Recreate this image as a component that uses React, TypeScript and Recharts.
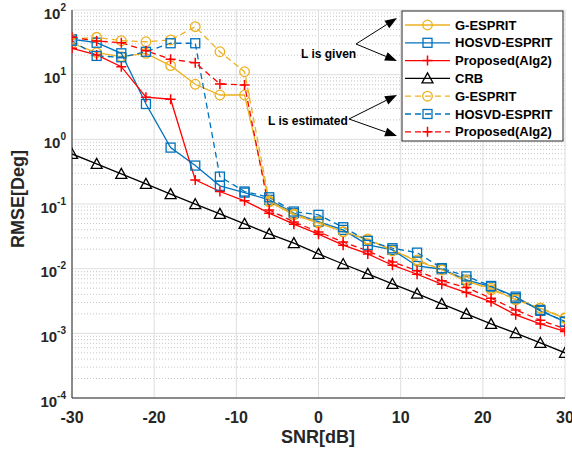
import React from "react";
import { CartesianGrid, Line, LineChart, XAxis, YAxis } from "recharts";

// SNR points (dB)
const snr = [-30, -27, -24, -21, -18, -15, -12, -9, -6, -3, 0, 3, 6, 9, 12, 15, 18, 21, 24, 27, 30];

// L is given (solid)
const gEspritGiven = [30.6, 21.9, 19.0, 21.4, 13.8, 7.11, 4.85, 4.85, 0.108, 0.068, 0.0505, 0.0374, 0.0279, 0.0195, 0.0129, 0.0098, 0.0063, 0.005, 0.0033, 0.00243, 0.0017];
const hosvdGiven = [35.3, 31.2, 21.4, 3.52, 0.745, 0.393, 0.191, 0.15, 0.116, 0.0721, 0.0535, 0.0398, 0.0233, 0.0195, 0.011, 0.0098, 0.0067, 0.00528, 0.0037, 0.00223, 0.00152];
const proposedGiven = [25.6, 20.2, 13.3, 4.48, 4.17, 0.236, 0.156, 0.112, 0.0721, 0.0488, 0.0341, 0.0231, 0.0169, 0.0113, 0.0082, 0.00575, 0.00427, 0.00307, 0.00193, 0.0014, 0.00107];
const crb = [0.594, 0.417, 0.292, 0.205, 0.142, 0.0993, 0.0703, 0.0492, 0.0345, 0.0248, 0.0169, 0.0118, 0.0083, 0.0058, 0.0041, 0.00286, 0.002, 0.0014, 0.00101, 0.00071, 0.0005];

// L is estimated (dashed)
const gEspritEst = [35.3, 37.8, 33.5, 32.3, 34.4, 55.2, 22.6, 11.1, 0.112, 0.0703, 0.0528, 0.037, 0.0289, 0.0188, 0.0137, 0.0096, 0.0067, 0.0047, 0.0034, 0.00248, 0.00174];
const hosvdEst = [33.5, 19.5, 18.6, 22.6, 30.6, 30.6, 0.265, 0.156, 0.127, 0.0764, 0.068, 0.0437, 0.0269, 0.0207, 0.0177, 0.0102, 0.0076, 0.0054, 0.0035, 0.0023, 0.0015];
const proposedEst = [37.8, 33.2, 31.2, 23.5, 17.3, 15.3, 7.18, 6.93, 0.081, 0.0528, 0.037, 0.0259, 0.0188, 0.0127, 0.0093, 0.0065, 0.0051, 0.0035, 0.0023, 0.0016, 0.00117];

const xTicks = [-30, -20, -10, 0, 10, 20, 30];
const yTicks = [1e-4, 1e-3, 1e-2, 1e-1, 1, 10, 100];
const yMinor = [1e-4, 1e-3, 1e-2, 1e-1, 1, 10].flatMap((d) => [2, 3, 4, 5, 6, 7, 8, 9].map((m) => +(d * m).toPrecision(3)));

const FONT = '"Liberation Sans", Arial, Helvetica, sans-serif';
const AXIS = "#262626";
const ORANGE = "#EDB120";
const BLUE = "#0072BD";
const RED = "#FF0000";
const BLACK = "#000000";

type Shape = "circle" | "square" | "plus" | "triangle";

const series: { key: string; name: string; color: string; shape: Shape; dashed: boolean; values: number[] }[] = [
  { key: "gGiven", name: "G-ESPRIT", color: ORANGE, shape: "circle", dashed: false, values: gEspritGiven },
  { key: "hGiven", name: "HOSVD-ESPRIT", color: BLUE, shape: "square", dashed: false, values: hosvdGiven },
  { key: "pGiven", name: "Proposed(Alg2)", color: RED, shape: "plus", dashed: false, values: proposedGiven },
  { key: "crb", name: "CRB", color: BLACK, shape: "triangle", dashed: false, values: crb },
  { key: "gEst", name: "G-ESPRIT", color: ORANGE, shape: "circle", dashed: true, values: gEspritEst },
  { key: "hEst", name: "HOSVD-ESPRIT", color: BLUE, shape: "square", dashed: true, values: hosvdEst },
  { key: "pEst", name: "Proposed(Alg2)", color: RED, shape: "plus", dashed: true, values: proposedEst },
];

const rows = snr.map((s, i) => {
  const row: Record<string, number> = { snr: s };
  series.forEach((sr) => (row[sr.key] = sr.values[i]));
  return row;
});

function Marker({ shape, x, y, color }: { shape: Shape; x: number; y: number; color: string }) {
  if (shape === "circle") return <circle cx={x} cy={y} r={4.8} fill="none" stroke={color} strokeWidth={1.3} />;
  if (shape === "square") return <rect x={x - 4.5} y={y - 4.5} width={9} height={9} fill="none" stroke={color} strokeWidth={1.3} />;
  if (shape === "plus")
    return <path d={`M${x - 5},${y}H${x + 5}M${x},${y - 5}V${y + 5}`} stroke={color} strokeWidth={1.5} fill="none" />;
  return <path d={`M${x},${y - 5.5}L${x + 5.5},${y + 4.5}L${x - 5.5},${y + 4.5}Z`} fill="none" stroke={color} strokeWidth={1.3} />;
}

const dotFor = (shape: Shape, color: string) => (props: any) =>
  (
    <g key={`d-${props.index}`}>
      <Marker shape={shape} x={props.cx} y={props.cy} color={color} />
    </g>
  );

function YTick(props: any) {
  const { x, y, payload } = props;
  const exp = Math.round(Math.log10(payload.value));
  return (
    <text x={x} y={y + 8.6} textAnchor="end" fill={AXIS} fontFamily={FONT} fontWeight={700} fontSize={15}>
      10
      <tspan dy={-8} fontSize={10}>
        {`${exp}`}
      </tspan>
    </text>
  );
}

function Arrow({ x1, y1, x2, y2 }: { x1: number; y1: number; x2: number; y2: number }) {
  const a = Math.atan2(y2 - y1, x2 - x1);
  const len = 12;
  const w = 4.5;
  const bx = x2 - len * Math.cos(a);
  const by = y2 - len * Math.sin(a);
  const px = -Math.sin(a) * w;
  const py = Math.cos(a) * w;
  return (
    <g>
      <line x1={x1} y1={y1} x2={bx} y2={by} stroke="#000" strokeWidth={1} />
      <polygon points={`${x2},${y2} ${bx + px},${by + py} ${bx - px},${by - py}`} fill="#000" />
    </g>
  );
}

function Overlay() {
  return (
    <svg width={572} height={450} style={{ position: "absolute", left: 0, top: 0, pointerEvents: "none" }}>
      {/* axis titles */}
      <text x={318} y={443} textAnchor="middle" fontFamily={FONT} fontWeight={700} fontSize={18} fill={AXIS}>
        SNR[dB]
      </text>
      <text transform="translate(24,199) rotate(-90)" textAnchor="middle" fontFamily={FONT} fontWeight={700} fontSize={18} fill={AXIS}>
        RMSE[Deg]
      </text>

      {/* annotations */}
      <text x={301} y={57.5} fontFamily={FONT} fontWeight={700} fontSize={12} fill="#000">
        L is given
      </text>
      <Arrow x1={356} y1={44} x2={397} y2={18} />
      <Arrow x1={356} y1={44} x2={397} y2={61} />
      <text x={268} y={124.5} fontFamily={FONT} fontWeight={700} fontSize={12} fill="#000">
        L is estimated
      </text>
      <Arrow x1={349} y1={119} x2={397} y2={95} />
      <Arrow x1={349} y1={119} x2={397} y2={136} />

      {/* legend */}
      <rect x={402} y={11} width={161} height={130} fill="#fff" stroke={AXIS} strokeWidth={1} />
      {series.map((s, i) => {
        const y = 25 + i * 17.8;
        return (
          <g key={s.key}>
            <line x1={405} x2={450} y1={y} y2={y} stroke={s.color} strokeWidth={1.3} strokeDasharray={s.dashed ? "6 4" : undefined} />
            <Marker shape={s.shape} x={427.5} y={y} color={s.color} />
            <text x={455} y={y + 4.6} fontFamily={FONT} fontWeight={700} fontSize={13} fill="#000">
              {s.name}
            </text>
          </g>
        );
      })}
    </svg>
  );
}

export default function App() {
  const logProps = { scale: "log" as const, type: "number" as const, domain: [1e-4, 100], allowDataOverflow: true };
  const xProps = { type: "number" as const, domain: [-30, 30], allowDataOverflow: true };
  return (
    <div style={{ position: "fixed", left: 0, top: 0, width: 572, height: 450, background: "#fff" }}>
      <LineChart width={572} height={450} data={rows} margin={{ top: 10, right: 7, bottom: 0, left: 0 }}>
        <CartesianGrid xAxisId="x" yAxisId="y" vertical={false} horizontalValues={yMinor} stroke="#c6c6c6" strokeDasharray="1 2" />
        <CartesianGrid xAxisId="x" yAxisId="y" stroke="#dedede" strokeWidth={1} />

        <XAxis
          xAxisId="x"
          dataKey="snr"
          {...xProps}
          ticks={xTicks}
          interval={0}
          height={52}
          tickSize={0}
          tickMargin={14}
          tickLine={false}
          axisLine={{ stroke: AXIS }}
          tick={{ fill: AXIS, fontSize: 16, fontWeight: 700, fontFamily: FONT }}
        />
        <XAxis xAxisId="xIn" {...xProps} ticks={xTicks} interval={0} mirror height={0} tick={false} tickSize={6} axisLine={false} tickLine={{ stroke: AXIS }} />
        <XAxis xAxisId="top" orientation="top" {...xProps} ticks={xTicks} interval={0} mirror height={0} tick={false} tickSize={6} axisLine={{ stroke: AXIS }} tickLine={{ stroke: AXIS }} />

        <YAxis
          yAxisId="y"
          {...logProps}
          ticks={yTicks}
          interval={0}
          width={72}
          tickSize={0}
          tickMargin={6}
          tickLine={false}
          axisLine={{ stroke: AXIS }}
          tick={<YTick />}
        />
        <YAxis yAxisId="yIn" {...logProps} ticks={yTicks} interval={0} mirror width={0} tick={false} tickSize={6} axisLine={false} tickLine={{ stroke: AXIS }} />
        <YAxis yAxisId="yInMinor" {...logProps} ticks={yMinor} interval={0} mirror width={0} tick={false} tickSize={3} axisLine={false} tickLine={{ stroke: AXIS }} />
        <YAxis yAxisId="right" orientation="right" {...logProps} ticks={yTicks} interval={0} mirror width={0} tick={false} tickSize={6} axisLine={{ stroke: AXIS }} tickLine={{ stroke: AXIS }} />
        <YAxis yAxisId="rightMinor" orientation="right" {...logProps} ticks={yMinor} interval={0} mirror width={0} tick={false} tickSize={3} axisLine={false} tickLine={{ stroke: AXIS }} />

        {series.map((s) => (
          <Line
            key={s.key}
            xAxisId="x"
            yAxisId="y"
            type="linear"
            dataKey={s.key}
            name={s.name}
            stroke={s.color}
            strokeWidth={1.3}
            strokeDasharray={s.dashed ? "6 4" : undefined}
            dot={dotFor(s.shape, s.color)}
            activeDot={false}
            isAnimationActive={false}
          />
        ))}
      </LineChart>
      <Overlay />
    </div>
  );
}
